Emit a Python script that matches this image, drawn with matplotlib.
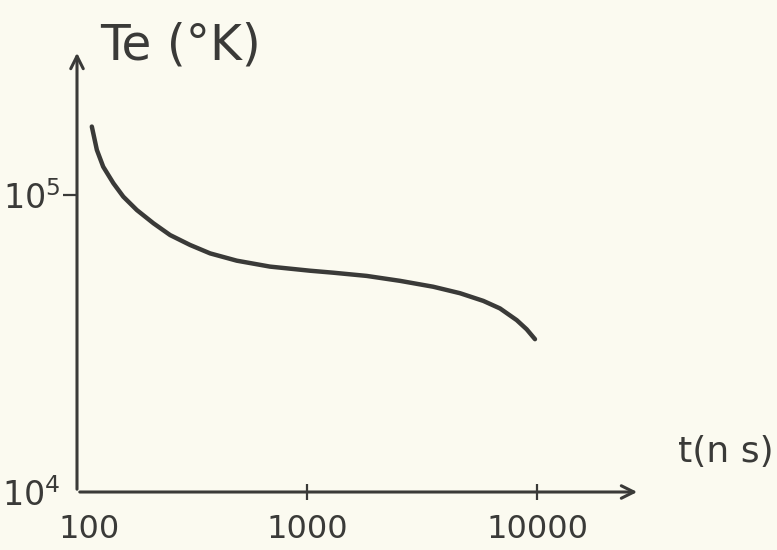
import numpy as np
import matplotlib.pyplot as plt
import matplotlib.transforms as mtransforms

# values (t in ns, Te in K)
t_ns = [116, 122, 130, 144, 159, 182, 215, 254, 310, 379, 495, 690, 1030,
        1301, 1818, 2537, 3540, 4627, 5842, 6905, 8163, 9020, 9800]
te_k = [1.70e5, 1.418e5, 1.245e5, 1.095e5, 9.87e4, 8.9e4, 8.03e4, 7.33e4,
        6.79e4, 6.36e4, 6.01e4, 5.74e4, 5.56e4, 5.475e4, 5.34e4, 5.14e4,
        4.91e4, 4.67e4, 4.40e4, 4.15e4, 3.79e4, 3.53e4, 3.27e4]

x_ticks = [100, 1000, 10000]
x_labels = ["100", "1000", "10000"]
y_ticks = [1e4, 1e5]
y_labels = [r"$\mathregular{10^4}$", r"$\mathregular{10^5}$"]

paper = "#fbfaf0"
ink = "#3a3a38"

fig = plt.figure(figsize=(7.77, 5.5), dpi=100, facecolor=paper)
ax = fig.add_axes([77 / 777, 58 / 550, 563 / 777, 442 / 550])
ax.set_facecolor(paper)
ax.set_xscale("log")
ax.set_yscale("log")
ax.set_xlim(100, 10 ** (2 + 563 / 230))
ax.set_ylim(1e4, 10 ** (4 + 442 / 297))

ax.plot(t_ns, te_k, color=ink, lw=3.2, solid_capstyle="round",
        solid_joinstyle="round")

for s in ax.spines.values():
    s.set_visible(False)

# axes drawn as arrows
arrow = dict(arrowstyle="->,head_length=0.9,head_width=0.45", color=ink, lw=2.2)
ax.annotate("", xy=(1, 0), xytext=(0, 0), xycoords="axes fraction",
            arrowprops=arrow, annotation_clip=False)
ax.annotate("", xy=(0, 1), xytext=(0, 0), xycoords="axes fraction",
            arrowprops=arrow, annotation_clip=False)

ax.minorticks_off()
ax.set_xticks(x_ticks)
ax.set_xticklabels(x_labels)
ax.set_yticks(y_ticks)
ax.set_yticklabels(y_labels)
ax.tick_params(axis="x", direction="inout", length=12, width=1.6, color=ink,
               labelsize=23, labelcolor=ink, pad=10)
ax.tick_params(axis="y", direction="out", length=10, width=1.6, color=ink,
               labelsize=24, labelcolor=ink, pad=2)
ax.xaxis.get_major_ticks()[0].tick1line.set_visible(False)
ax.yaxis.get_major_ticks()[0].tick1line.set_visible(False)

# the "100" label sits a little right of the corner in the drawing
first = ax.get_xticklabels()[0]
first.set_transform(first.get_transform() +
                    mtransforms.ScaledTranslation(12 / 100, 0, fig.dpi_scale_trans))

fig.text(100 / 777, 1 - 45 / 550, "Te (°K)", fontsize=35, color=ink,
         ha="left", va="center")
fig.text(774 / 777, 1 - 452 / 550, "t(n s)", fontsize=26, color=ink,
         ha="right", va="center")

fig.savefig("out.png", dpi=100, facecolor=paper)
